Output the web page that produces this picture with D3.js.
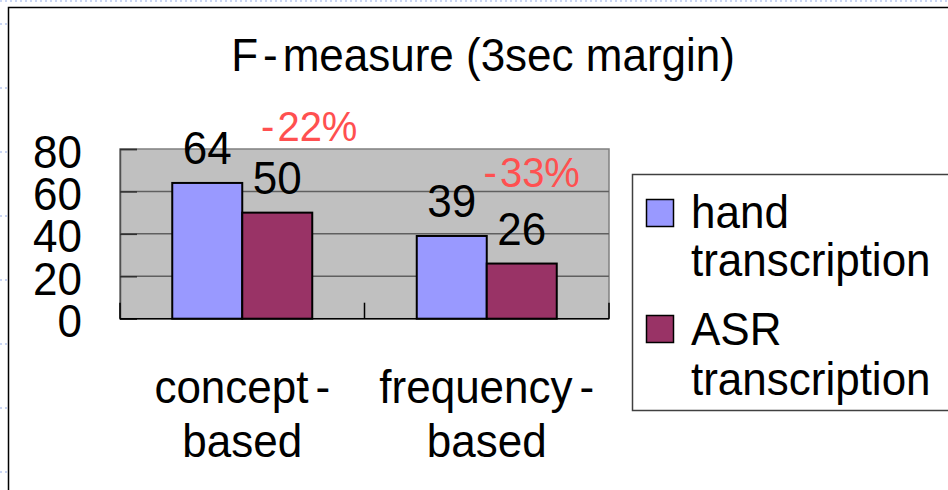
<!DOCTYPE html>
<html>
<head>
<meta charset="utf-8">
<script src="https://cdn.jsdelivr.net/npm/d3@7"></script>
<style>
  html, body { margin: 0; padding: 0; background: #fff; }
  svg { display: block; font-family: "Liberation Sans", Arial, sans-serif; }
</style>
</head>
<body>
<svg id="chart" width="948" height="490"></svg>
<script>
// Chart data
const title = "F-measure (3sec margin)";
const categoryLines = [["concept-", "based"], ["frequency-", "based"]];
const seriesNames = [["hand", "transcription"], ["ASR", "transcription"]];
const handValues = [64, 39];
const asrValues = [50, 26];
const yTicks = [0, 20, 40, 60, 80];

const seriesValues = [handValues, asrValues];
const seriesColors = ["#9999ff", "#993366"];

const svg = d3.select("#chart");
const W = 948, H = 490;
const plot = { left: 120, right: 609, top: 149, bottom: 318.7 };
const textScaleY = 1.07;
const fontSize = 44;

// Slide background dots
const dots = svg.append("g").attr("stroke", "#b8c8f0").attr("stroke-width", 1.5)
  .attr("stroke-dasharray", "2,3");
dots.append("line").attr("x1", 0).attr("x2", W).attr("y1", 1).attr("y2", 1);
[24, 88, 152, 216, 280, 344, 408, 472].forEach(y => {
  dots.append("line").attr("x1", 0).attr("x2", 7).attr("y1", y).attr("y2", y);
});

// Chart frame
svg.append("path")
  .attr("d", `M8.5,${H + 5}V7.5H${W + 5}`)
  .attr("fill", "none").attr("stroke", "#000").attr("stroke-width", 1.5);

// Text helper: slightly tall glyphs
function addText(g, x, y, parts, opts = {}) {
  const t = g.append("text")
    .attr("transform", `translate(${x},${y}) scale(1,${textScaleY})`)
    .attr("font-size", opts.size || fontSize)
    .attr("fill", opts.fill || "#000")
    .attr("text-anchor", opts.anchor || "middle");
  (Array.isArray(parts) ? parts : [[parts, 0]]).forEach(([s, dx]) => {
    t.append("tspan").attr("dx", dx).text(s);
  });
  return t;
}

// Scales
const x0 = d3.scaleBand().domain(d3.range(categoryLines.length))
  .range([plot.left, plot.right]).paddingInner(0).paddingOuter(0);
const barW = 70;
const x1 = d3.scaleBand().domain(d3.range(seriesValues.length))
  .range([-barW, barW]);
const y = d3.scaleLinear().domain([0, 80]).range([plot.bottom, plot.top]);

// Plot area
svg.append("rect")
  .attr("x", plot.left).attr("y", plot.top)
  .attr("width", plot.right - plot.left).attr("height", plot.bottom - plot.top)
  .attr("fill", "#c0c0c0").attr("stroke", "#808080").attr("stroke-width", 1.5);

// Gridlines
svg.append("g").selectAll("line")
  .data(yTicks.filter(v => v > 0 && v < 80))
  .join("line")
  .attr("x1", plot.left).attr("x2", plot.right)
  .attr("y1", d => y(d)).attr("y2", d => y(d))
  .attr("stroke", "#5f5f5f").attr("stroke-width", 1.5);

// Y axis with inner ticks
const yAxis = svg.append("g")
  .attr("transform", `translate(${plot.left},0)`)
  .call(d3.axisRight(y).tickValues(yTicks).tickSize(17).tickFormat(""));
yAxis.select(".domain").attr("stroke", "#505050").attr("stroke-width", 1.5);
yAxis.selectAll(".tick line").attr("stroke", "#303030").attr("stroke-width", 1.5);

const yLabels = svg.append("g");
yTicks.forEach(v => addText(yLabels, 82, y(v) + 18.5, String(v), { anchor: "end" }));

// X axis with inner ticks at category boundaries
const xAxis = svg.append("g")
  .attr("transform", `translate(0,${plot.bottom})`);
xAxis.append("line").attr("x1", plot.left).attr("x2", plot.right)
  .attr("stroke", "#000").attr("stroke-width", 1.5);
const bounds = d3.range(categoryLines.length + 1).map(i =>
  i < categoryLines.length ? x0(i) : x0(i - 1) + x0.bandwidth());
xAxis.selectAll(".tk").data(bounds).join("line")
  .attr("x1", d => d).attr("x2", d => d).attr("y1", 0).attr("y2", -16)
  .attr("stroke", "#000").attr("stroke-width", 1.5);

// Bars
const groups = svg.append("g").selectAll("g")
  .data(categoryLines.map((c, i) => i))
  .join("g")
  .attr("transform", i => `translate(${x0(i) + x0.bandwidth() / 2},0)`);

groups.selectAll("rect")
  .data(i => seriesValues.map((s, k) => ({ k, v: s[i] })))
  .join("rect")
  .attr("x", d => x1(d.k))
  .attr("width", x1.bandwidth())
  .attr("y", d => y(d.v))
  .attr("height", d => y(0) - y(d.v))
  .attr("fill", d => seriesColors[d.k])
  .attr("stroke", "#000").attr("stroke-width", 2);

// Value labels
groups.each(function (i) {
  const g = d3.select(this);
  seriesValues.forEach((s, k) => {
    addText(g, x1(k) + x1.bandwidth() / 2, y(s[i]) - 19, String(s[i]));
  });
});

// Relative change from hand to ASR transcription
const noteOffset = [[32, -72], [10, -77]];
groups.each(function (i) {
  const g = d3.select(this);
  const pct = Math.round((asrValues[i] - handValues[i]) / handValues[i] * 100);
  const cx = x1(1) + x1.bandwidth() / 2 + noteOffset[i][0];
  addText(g, cx, y(asrValues[i]) + noteOffset[i][1],
    [["-", 0], [String(Math.abs(pct)) + "%", 3]],
    { fill: "#ff5050", size: 40 });
});

// Category labels
const catG = svg.append("g");
categoryLines.forEach((lines, i) => {
  const cx = x0(i) + x0.bandwidth() / 2;
  const first = lines[0];
  addText(catG, cx, 403, [[first.slice(0, -1), 0], ["-", 7]]);
  addText(catG, cx, 457, lines[1]);
});

// Title
addText(svg, 483, 71, [["F", 0], ["-", 5], ["measure (3sec margin)", 5]]);

// Legend
const lg = svg.append("g");
lg.append("path")
  .attr("d", `M${W + 5},174.5H632.5V410.5H${W + 5}`)
  .attr("fill", "#fff").attr("stroke", "#404040").attr("stroke-width", 1.5);
const legendRows = [{ sw: 199, base: [228, 276] }, { sw: 315, base: [345, 395] }];
seriesNames.forEach((lines, k) => {
  lg.append("rect")
    .attr("x", 646.5).attr("y", legendRows[k].sw + 0.5)
    .attr("width", 27).attr("height", 27)
    .attr("fill", seriesColors[k]).attr("stroke", "#000").attr("stroke-width", 1.5);
  lines.forEach((s, j) => addText(lg, 691, legendRows[k].base[j], s, { anchor: "start" }));
});
</script>
</body>
</html>
